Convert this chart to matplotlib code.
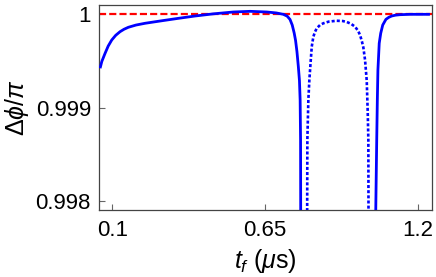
import matplotlib
matplotlib.use("Agg")
import matplotlib.pyplot as plt

plt.rcParams['font.family'] = ['Liberation Sans', 'DejaVu Sans']
plt.rcParams['mathtext.fontset'] = 'custom'
plt.rcParams['mathtext.rm'] = 'Liberation Sans'
plt.rcParams['mathtext.it'] = 'Liberation Sans:italic'

# Solid curve, left branch
solid_left_t = [0.0557, 0.0620, 0.0737, 0.0850, 0.0978, 0.1120, 0.1277, 0.1420, 0.1576,
                0.1850, 0.2178, 0.2780, 0.3378, 0.3980, 0.4638, 0.5360, 0.5960, 0.6560,
                0.6900, 0.7160, 0.7300, 0.7400, 0.7480, 0.7550, 0.7600, 0.7650, 0.7700,
                0.7740, 0.7765, 0.7780, 0.7790]
solid_left_v = [0.999422, 0.999495, 0.999582, 0.999660, 0.999725, 0.999775, 0.999814, 0.999840,
                0.999861, 0.999885, 0.999904, 0.999931, 0.999957, 0.999982, 1.000005, 1.000025,
                1.000032, 1.000025, 1.000015, 1.000000, 0.999980, 0.999945, 0.999885, 0.999800,
                0.999720, 0.999600, 0.999440, 0.999290, 0.999080, 0.998654, 0.997000]

# Solid curve, right branch
solid_right_t = [1.0475, 1.0489, 1.0524, 1.0546, 1.0567, 1.0614, 1.0668, 1.0740, 1.0855,
                 1.0960, 1.1065, 1.1200, 1.1359, 1.1719, 1.2440]
solid_right_v = [0.997000, 0.997900, 0.998654, 0.999082, 0.999404, 0.999690, 0.999797,
                 0.999885, 0.999946, 0.999968, 0.999982, 0.999991, 0.999996, 1.000000, 1.000000]

# Dotted curve
dotted_t = [0.8010, 0.8025, 0.8061, 0.8097, 0.8148, 0.8183, 0.8241, 0.8300, 0.8363, 0.8480,
            0.8601, 0.8800, 0.9083, 0.9300, 0.9444, 0.9600, 0.9743, 0.9850, 0.9923, 0.9990,
            1.0042, 1.0103, 1.0164, 1.0200, 1.0222, 1.0235]
dotted_v = [0.997000, 0.998654, 0.999082, 0.999297, 0.999511, 0.999653, 0.999760, 0.999812,
            0.999850, 0.999885, 0.999904, 0.999922, 0.999931, 0.999928, 0.999918, 0.999898,
            0.999867, 0.999825, 0.999778, 0.999710, 0.999645, 0.999511, 0.999290, 0.998950,
            0.998654, 0.997000]

ref_level = 1.0
xticks = [0.1, 0.65, 1.2]
xtick_labels = ['0.1', '0.65', '1.2']
yticks = [0.998, 0.999, 1.0]
ytick_labels = ['0.998', '0.999', '1']

fig = plt.figure(figsize=(4.36, 2.77), dpi=100)
ax = fig.add_axes([0.2278, 0.2408, 0.9908 - 0.2278, 0.983 - 0.2408])

xlim = (0.053, 1.2515)
ax.plot(xlim, [ref_level, ref_level], color='#ff0000', lw=1.6, ls=(0, (3.2, 1.4)), zorder=2)
ax.plot(solid_left_t, solid_left_v, color='#0000ff', lw=2.0, zorder=3, solid_capstyle='butt')
ax.plot(solid_right_t, solid_right_v, color='#0000ff', lw=2.0, zorder=3, solid_capstyle='butt')
ax.plot(dotted_t, dotted_v, color='#0000ff', lw=1.9, ls=(0, (1.15, 0.8)), zorder=3)

ax.set_xlim(*xlim)
ax.set_ylim(0.99790, 1.000103)
ax.set_xticks(xticks)
ax.set_xticklabels(xtick_labels)
ax.set_yticks(yticks)
ax.set_yticklabels(ytick_labels)
ax.tick_params(direction='in', length=4, width=0.8, color='#666666', labelsize=16,
               labelcolor='black')
ax.tick_params(axis='x', pad=7)
ax.tick_params(axis='y', pad=6)
for s in ax.spines.values():
    s.set_color('#444444')
    s.set_linewidth(0.9)

ax.set_xlabel(r'$t_f$ ($\mu$s)', fontsize=18, labelpad=4)
ax.set_ylabel(r'$\Delta\phi/\pi$', fontsize=18, labelpad=3)

fig.savefig('out.png', dpi=100)
